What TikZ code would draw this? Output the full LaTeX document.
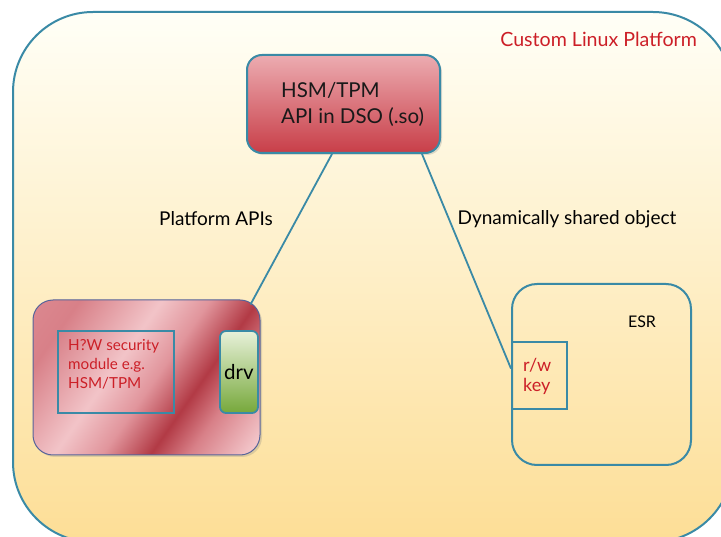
\documentclass[tikz,border=0pt]{standalone}
\usepackage{fontspec}
\setmainfont{Lato}
\usetikzlibrary{calc,shadows}
\definecolor{teal1}{HTML}{3A8AA6}
\definecolor{redtxt}{HTML}{CC1F27}
\definecolor{hwA}{HTML}{E1959C}
\definecolor{hwB}{HTML}{D88088}
\definecolor{hwC}{HTML}{F2C4C8}
\definecolor{hwD}{HTML}{B23A45}
\pgfdeclarehorizontalshading{hwshade}{100bp}{color(0bp)=(hwA); color(25bp)=(hwB); color(42bp)=(hwC); color(52bp)=(hwA); color(62bp)=(hwD); color(70bp)=(hwB); color(82bp)=(hwC); color(100bp)=(hwA)}
\tikzset{
  platform/.style={draw=teal1, line width=2pt, rounded corners=80pt, top color=white!60!yellow!8, bottom color={rgb,255:red,253;green,222;blue,150}, inner sep=0pt},
  apibox/.style={draw=teal1, line width=2pt, rounded corners=15pt, top color={rgb,255:red,236;green,172;blue,177}, bottom color={rgb,255:red,200;green,62;blue,72}, inner sep=0pt, drop shadow={opacity=0.25, shadow xshift=2pt, shadow yshift=-2pt}},
  hwbox/.style={draw={rgb,255:red,86;green,100;blue,154}, line width=1pt, rounded corners=20pt, shading=hwshade, shading angle=-35, inner sep=0pt, drop shadow={opacity=0.25, shadow xshift=2pt, shadow yshift=-2pt}},
  secbox/.style={draw=teal1, line width=2.2pt, inner sep=0pt},
  drvbox/.style={draw=teal1, line width=1.8pt, rounded corners=6pt, top color={rgb,255:red,232;green,241;blue,218}, bottom color={rgb,255:red,118;green,168;blue,58}, inner sep=0pt},
  esrbox/.style={draw=teal1, line width=2pt, rounded corners=25pt, inner sep=0pt},
  keybox/.style={draw=teal1, line width=2pt, inner sep=0pt},
  conn/.style={draw=teal1, line width=1.8pt},
  lbl/.style={font=\fontsize{19}{22}\selectfont, text=black, inner sep=0pt},
  redlbl/.style={font=\fontsize{15.2}{19}\selectfont, text=redtxt, align=left, inner sep=0pt, anchor=north west},
}
\begin{document}
\begin{tikzpicture}[x=1pt,y=-1pt]
\useasboundingbox (0,0) rectangle (721,537);
\clip (0,0) rectangle (721,537);
\node[platform, minimum width=720pt, minimum height=530pt] (plat) at (373,277) {};
\node[font=\fontsize{19.6}{22}\selectfont, text=redtxt, anchor=east, inner sep=0pt] (platlbl) at (697,39) {Custom Linux Platform};
\node[apibox, minimum width=193pt, minimum height=98pt] (hsm) at (343.5,104) {};
\node[font=\fontsize{20.5}{26}\selectfont, align=left, anchor=north west, inner sep=0pt, text={rgb,255:red,25;green,25;blue,25}] (hsmtxt) at (281,82) {HSM/TPM\\API in DSO (.so)};
\node[hwbox, minimum width=227pt, minimum height=155pt] (hw) at (146.5,377.5) {};
\node[secbox, minimum width=116pt, minimum height=82pt] (sec) at (116,372) {};
\node[redlbl] (sectxt) at (68,339) {H?W security\\module e.g.\\HSM/TPM};
\node[drvbox, minimum width=38pt, minimum height=82pt, font=\fontsize{20.5}{22}\selectfont] (drv) at (239,372) {drv};
\node[esrbox, minimum width=179pt, minimum height=181pt] (esr) at (601.5,374.5) {};
\node[font=\fontsize{16}{18}\selectfont, inner sep=0pt] (esrtxt) at (642,322) {ESR};
\node[keybox, minimum width=55pt, minimum height=67pt] (key) at (539.5,375.5) {};
\node[font=\fontsize{18}{20}\selectfont, text=redtxt, align=left, anchor=north west, inner sep=0pt] (keytxt) at (523,358) {r/w\\key};
\draw[conn] ($(hsm.south west)+(86,0)$) -- ($(hw.north east)+(-10,5)$);
\draw[conn] ($(hsm.south west)+(176,0)$) -- ($(key.north west)!0.4!(key.south west)$);
\node[lbl] (l1) at (216,219) {Platform APIs};
\node[lbl] (l2) at (567,219) {Dynamically shared object};
\end{tikzpicture}
\end{document}
